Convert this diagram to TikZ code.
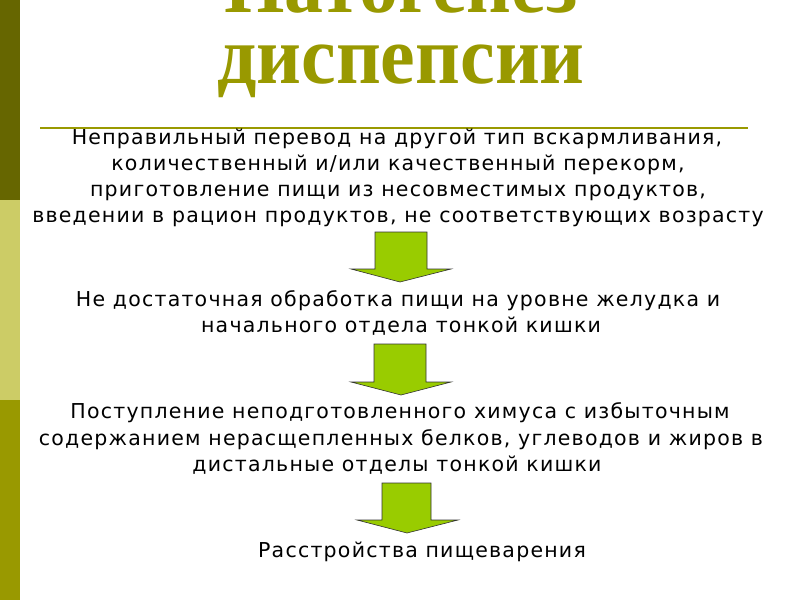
\documentclass[tikz,border=0pt]{standalone}
\usepackage{fontspec}
\setmainfont{DejaVu Sans}[LetterSpace=6]
\newfontfamily\titlefont{Liberation Serif}[BoldFont={* Bold}]
\definecolor{olivedark}{HTML}{666600}
\definecolor{olivelight}{HTML}{CCCC66}
\definecolor{olivemid}{HTML}{999900}
\definecolor{arrowgreen}{HTML}{99CC00}
\tikzset{
  bodyline/.style={anchor=base, inner sep=0pt, font=\fontsize{20.5}{24}\selectfont, text=black},
  titleline/.style={anchor=base, inner sep=0pt, text=olivemid, font=\titlefont\bfseries\fontsize{82}{82}\selectfont, xscale=0.95},
  blockarrow/.style={fill=arrowgreen, draw=black!80, line width=0.6pt, line join=miter}
}
\begin{document}
\begin{tikzpicture}[x=1pt,y=-1pt]
\useasboundingbox (0,0) rectangle (800,600);
\fill[white] (0,0) rectangle (800,600);
% left bar
\fill[olivedark] (0,0) rectangle (20,200);
\fill[olivelight] (0,200) rectangle (20,400);
\fill[olivemid] (0,400) rectangle (20,600);
% title
\node[titleline] (t1) at (401,12) {Патогенез};
\node[titleline] (t2) at (401,83) {диспепсии};
\draw[olivemid, line width=2pt] (40,128) -- (748,128);
% paragraph 1
\node[bodyline] (a1) at (397,144) {Неправильный перевод на другой тип вскармливания,};
\node[bodyline] (a2) at (398,170) {количественный и/или качественный перекорм,};
\node[bodyline] (a3) at (398,196) {приготовление пищи из несовместимых продуктов,};
\node[bodyline] (a4) at (398,222) {введении в рацион продуктов, не соответствующих возрасту};
% arrow 1
\draw[blockarrow] (375,232) -- (427,232) -- (427,269) -- (451,269) -- (400,282) -- (351,269) -- (375,269) -- cycle;
% paragraph 2
\node[bodyline] (b1) at (398,306.5) {Не достаточная обработка пищи на уровне желудка и};
\node[bodyline] (b2) at (401,332.5) {начального отдела тонкой кишки};
% arrow 2
\draw[blockarrow] (374,344) -- (426,344) -- (426,382) -- (451,382) -- (401,395) -- (351,382) -- (374,382) -- cycle;
% paragraph 3
\node[bodyline] (c1) at (400,418) {Поступление неподготовленного химуса с избыточным};
\node[bodyline] (c2) at (401,445) {содержанием нерасщепленных белков, углеводов и жиров в};
\node[bodyline] (c3) at (397,471) {дистальные отделы тонкой кишки};
% arrow 3
\draw[blockarrow] (382,483) -- (431,483) -- (431,520) -- (458,520) -- (407,533) -- (357,520) -- (382,520) -- cycle;
% paragraph 4
\node[bodyline] (d1) at (422,557) {Расстройства пищеварения};
\end{tikzpicture}
\end{document}
